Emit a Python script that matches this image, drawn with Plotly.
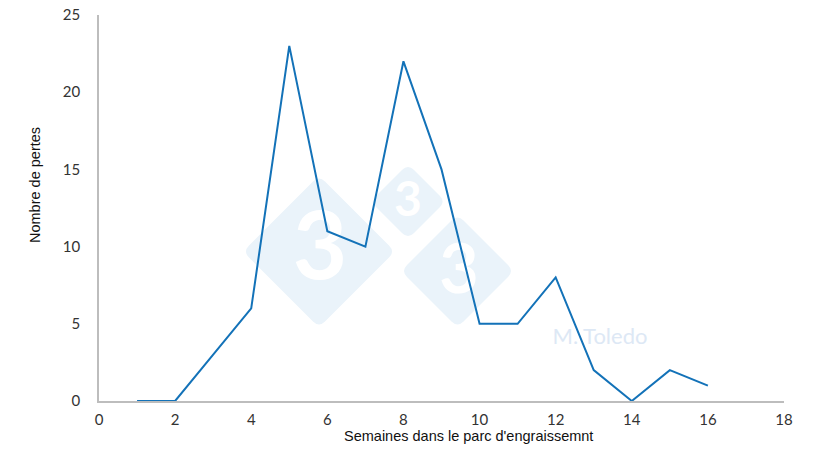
import plotly.graph_objects as go

weeks = [1, 2, 3, 4, 5, 6, 7, 8, 9, 10, 11, 12, 13, 14, 15, 16]
losses = [0, 0, 3, 6, 23, 11, 10, 22, 15, 5, 5, 8, 2, 0, 2, 1]
x_ticks = [0, 2, 4, 6, 8, 10, 12, 14, 16, 18]
y_ticks = [0, 5, 10, 15, 20, 25]
x_title = "Semaines dans le parc d'engraissemnt"
y_title = "Nombre de pertes"

W, H = 820, 462
# target plot area in screenshot pixels
PX0, PX1, PY0, PY1 = 99, 784, 15, 401

def pxp(sx):
    return (sx - PX0) / (PX1 - PX0)

def pyp(sy):
    return (PY1 - sy) / (PY1 - PY0)

def dx(sx):
    return pxp(sx) * 18

def dy(sy):
    return pyp(sy) * 25

fig = go.Figure()

# watermark digits (drawn before the data line so the line stays on top)
wm_x = [dx(320), dx(408), dx(459)]
wm_y = [dy(255), dy(204), dy(276)]
fig.add_trace(go.Scatter(x=wm_x, y=wm_y, mode="text", text=["<b>3</b>"] * 3,
                         textfont=dict(family="Lato, sans-serif", size=[94, 48, 68], color="white"),
                         hoverinfo="skip", cliponaxis=False))
fig.add_trace(go.Scatter(x=[dx(600)], y=[dy(338)], mode="text", text=["M. Toledo"],
                         textfont=dict(family="Lato, sans-serif", size=22, color="#DDE8F5"),
                         hoverinfo="skip", cliponaxis=False))

fig.add_trace(go.Scatter(x=weeks, y=losses, mode="lines",
                         line=dict(color="#1372B8", width=2), hoverinfo="x+y"))

shapes = []
wm = "#EAF3FA"
for cx, cy, h in [(319, 251.5, 76), (408, 201.5, 37.5), (457.5, 271, 56.5)]:
    r = 6
    path = (f"M {pxp(cx-h+r)},{pyp(cy-r)} L {pxp(cx-r)},{pyp(cy-h+r)} "
            f"Q {pxp(cx)},{pyp(cy-h)} {pxp(cx+r)},{pyp(cy-h+r)} "
            f"L {pxp(cx+h-r)},{pyp(cy-r)} Q {pxp(cx+h)},{pyp(cy)} {pxp(cx+h-r)},{pyp(cy+r)} "
            f"L {pxp(cx+r)},{pyp(cy+h-r)} Q {pxp(cx)},{pyp(cy+h)} {pxp(cx-r)},{pyp(cy+h-r)} "
            f"L {pxp(cx-h+r)},{pyp(cy+r)} Q {pxp(cx-h)},{pyp(cy)} {pxp(cx-h+r)},{pyp(cy-r)} Z")
    shapes.append(dict(type="path", path=path, xref="paper", yref="paper",
                       fillcolor=wm, line=dict(width=0), layer="below"))

annotations = [
    dict(text=x_title, x=pxp(468), y=pyp(436), xref="paper", yref="paper", showarrow=False,
         font=dict(family="Liberation Sans, Arial, sans-serif", size=14.5, color="#111"),
         xanchor="center", yanchor="middle"),
    dict(text=y_title, x=pxp(35), y=pyp(185), textangle=-90, xref="paper", yref="paper",
         showarrow=False, font=dict(family="Liberation Sans, Arial, sans-serif", size=14.5, color="#111"),
         xanchor="center", yanchor="middle"),
]

tickfont = dict(family="Lato, Open Sans, sans-serif", size=15, color="#333")
fig.update_layout(
    template="none",
    width=W, height=H,
    margin=dict(l=PX0, r=W - PX1, t=PY0, b=H - PY1, pad=0),
    paper_bgcolor="white", plot_bgcolor="white", showlegend=False,
    shapes=shapes, annotations=annotations,
    xaxis=dict(range=[0, 18], tickvals=x_ticks, showgrid=False, zeroline=False, automargin=False,
               showline=True, linecolor="#BDBDBD", linewidth=1.5, ticks="",
               tickfont=tickfont, ticklabelstandoff=4),
    yaxis=dict(range=[0, 25], tickvals=y_ticks, showgrid=False, zeroline=False, automargin=False,
               showline=True, linecolor="#BDBDBD", linewidth=1.5, ticks="",
               tickfont=tickfont, ticklabelstandoff=14),
)
fig.write_html("out.html", config={"displayModeBar": False},
               post_script="document.body.style.margin='0';")
